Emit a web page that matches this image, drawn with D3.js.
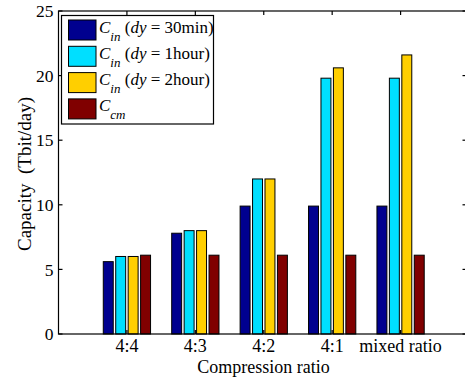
<!DOCTYPE html>
<html><head><meta charset="utf-8">
<script src="https://cdn.jsdelivr.net/npm/d3@7"></script>
<style>body{margin:0;background:#fff;} svg{display:block;}</style>
</head><body>
<script>
const categories = ["4:4","4:3","4:2","4:1","mixed ratio"];
const seriesNames = ["dy30","dy1h","dy2h","cm"];
const cin30 = [5.6, 7.8, 9.9, 9.9, 9.9];
const cin1h = [6.0, 8.0, 12.0, 19.8, 19.8];
const cin2h = [6.0, 8.0, 12.0, 20.6, 21.6];
const ccm = [6.1, 6.1, 6.1, 6.1, 6.1];
const yTicks = [0,5,10,15,20,25];
const colors = ["#00008F","#00DFFF","#FFCF00","#800000"];
const legendParts = [
  {sub:"in", rest:" (", it:"dy", tail:" = 30min)"},
  {sub:"in", rest:" (", it:"dy", tail:" = 1hour)"},
  {sub:"in", rest:" (", it:"dy", tail:" = 2hour)"},
  {sub:"cm", rest:"", it:"", tail:""}
];
const series = [cin30, cin1h, cin2h, ccm];

(function(){
const W=465,H=380;
const FF="'Times New Roman', 'Liberation Serif', Times, serif";
const svg=d3.select("body").append("svg").attr("width",W).attr("height",H).style("font-family",FF);
const pL=58.5, pR=469, pT=11, pB=334, boxR=466.5;
const x=d3.scaleLinear().domain([0,6]).range([pL,pR]);
const y=d3.scaleLinear().domain([0,25]).range([pB,pT]);

const step=0.1818, bw=step*0.8;
series.forEach((s,si)=>{
  svg.append("g").selectAll("rect").data(s).join("rect")
    .attr("x",(d,i)=>x(i+1+(si-1.5)*step-bw/2))
    .attr("width",x(bw)-x(0))
    .attr("y",d=>y(d))
    .attr("height",d=>y(0)-y(d))
    .attr("fill",colors[si])
    .attr("stroke","#000").attr("stroke-width",1);
});

const ax=svg.append("g").attr("stroke","#000").attr("stroke-width",1.2).attr("fill","none");
ax.append("rect").attr("x",pL).attr("y",pT).attr("width",boxR-pL).attr("height",pB-pT);
const tl=4;
yTicks.forEach(t=>{
  ax.append("line").attr("x1",pL).attr("x2",pL+tl).attr("y1",y(t)).attr("y2",y(t));
  ax.append("line").attr("x1",boxR).attr("x2",boxR-tl).attr("y1",y(t)).attr("y2",y(t));
});
categories.forEach((c,i)=>{
  ax.append("line").attr("x1",x(i+1)).attr("x2",x(i+1)).attr("y1",pB).attr("y2",pB-tl);
  ax.append("line").attr("x1",x(i+1)).attr("x2",x(i+1)).attr("y1",pT).attr("y2",pT+tl);
});
svg.append("g").selectAll("text").data(yTicks).join("text")
  .style("font-family",FF)
  .attr("x",pL-5).attr("y",d=>y(d)).attr("dy","0.35em")
  .attr("text-anchor","end").attr("font-size",17.5).text(d=>d);
svg.append("g").selectAll("text").data(categories).join("text")
  .style("font-family",FF)
  .attr("x",(d,i)=>x(i+1)).attr("y",352)
  .attr("text-anchor","middle").attr("font-size",18).text(d=>d);
svg.append("text").style("font-family",FF).attr("x",263.5).attr("y",373).attr("text-anchor","middle").attr("font-size",18).text("Compression ratio");
svg.append("text").style("font-family",FF).attr("transform",`translate(31,174) rotate(-90)`)
  .attr("text-anchor","middle").attr("font-size",19).attr("xml:space","preserve").text("Capacity  (Tbit/day)");

const lg=svg.append("g");
lg.append("rect").attr("x",61.5).attr("y",15.5).attr("width",152).attr("height",108.5)
  .attr("fill","#fff").attr("stroke","#000").attr("stroke-width",1.2);
legendParts.forEach((p,i)=>{
  const yy=20+i*26.3;
  lg.append("rect").attr("x",68.5).attr("y",yy).attr("width",27.5).attr("height",20)
    .attr("fill",colors[i]).attr("stroke","#000").attr("stroke-width",1);
  const t=lg.append("text").style("font-family",FF).attr("x",99).attr("y",yy+12.5).attr("font-size",17).attr("xml:space","preserve");
  t.append("tspan").attr("font-style","italic").text("C");
  t.append("tspan").attr("font-style","italic").attr("font-size",13).attr("dy",8).text(p.sub);
  if(p.rest){
    t.append("tspan").attr("dy",-8).text(p.rest);
    t.append("tspan").attr("font-style","italic").text(p.it);
    t.append("tspan").text(p.tail);
  }
});
})();
</script>
</body></html>
